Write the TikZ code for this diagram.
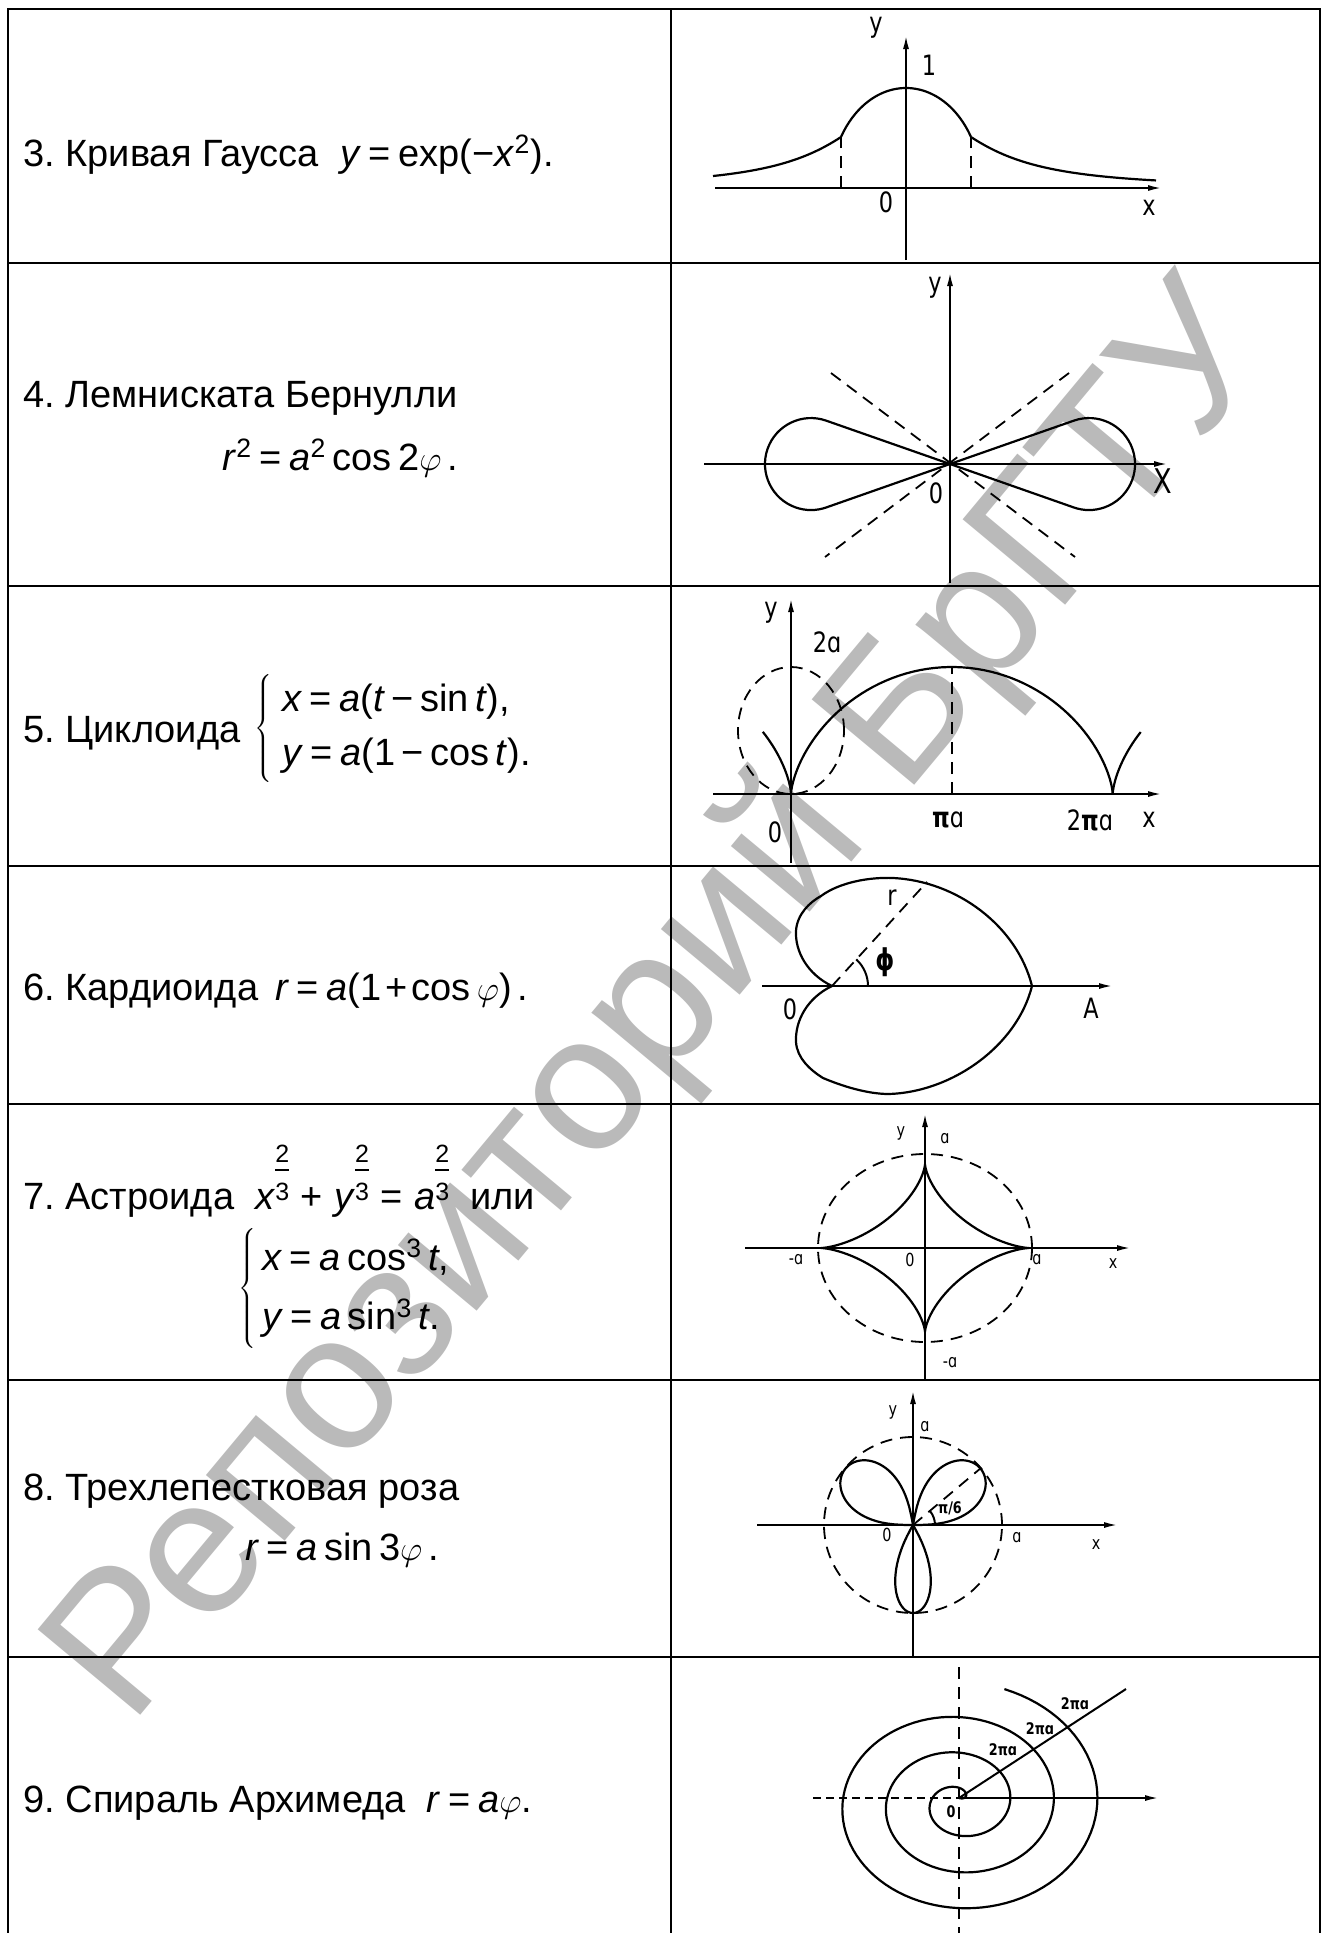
\documentclass[tikz,border=0pt]{standalone}
\usepackage{fontspec}
\setmainfont{Liberation Sans}
\newfontfamily\cad[FakeStretch=0.8]{DejaVu Sans}
\usetikzlibrary{arrows.meta}
\newcommand{\twothirds}{\raise4.5pt\hbox{\fontsize{12.5}{12.5}\selectfont\vbox{\offinterlineskip\halign{\hfil##\hfil\cr 2\cr\noalign{\kern3.5pt\hrule height0.6pt\kern6pt}3\cr}}}}
\newcommand{\vphi}{\ensuremath{\varphi}}
\newcommand{\eqs}{\hspace{0.2em}=\hspace{0.2em}}
\frenchspacing
\begin{document}
\begin{tikzpicture}[x=0.5pt,y=-0.5pt,
 tabline/.style={line width=1.4pt},
 crv/.style={line width=1.1pt},
 axisline/.style={line width=1pt},
 axarrow/.style={line width=1pt,-{Latex[length=7pt,width=3pt]}},
 dsh/.style={line width=0.9pt,dash pattern=on 6pt off 4pt},
 txt/.style={inner sep=0pt,anchor=base west,font=\fontsize{19}{22}\selectfont},
 sysbox/.style={inner sep=0pt,anchor=west,font=\fontsize{19}{22}\selectfont},
 lbl/.style={inner sep=0pt,font=\cad\fontsize{14}{14}\selectfont},
 slbl/.style={inner sep=0pt,font=\cad\fontsize{9}{9}\selectfont},
 tlbl/.style={inner sep=0pt,font=\cad\bfseries\fontsize{8}{8}\selectfont},
 wmark/.style={inner sep=0pt,rotate=50.2,text=black!27,font=\fontsize{97}{97}\selectfont}]
\useasboundingbox (0,0) rectangle (1324,1933);

% watermark
\node[wmark] (wm) at (664,1006) {Репозиторий БрГТУ};

% table
\draw[tabline] (8,1933) -- (8,9) -- (1320,9) -- (1320,1933);
\foreach \yy in {263,586,866,1104,1380,1657} \draw[tabline] (8,\yy) -- (1320,\yy);
\draw[tabline] (671,9) -- (671,1933);

% ---------- left column texts ----------
\node[txt] (t1) at (23,166) {3. Кривая Гаусса\ \ \textit{y}\eqs exp(−\textit{x}\textsuperscript{2}).};
\node[txt] (t2a) at (23,407) {4. Лемниската Бернулли};
\node[txt] (t2b) at (222,470) {\textit{r}\textsuperscript{2}\eqs\textit{a}\textsuperscript{2}\,cos\,2\vphi\,.};
\node[txt] (t3) at (23,742) {5. Циклоида};
\node[sysbox] (t3s) at (254,728) {$\left\{\renewcommand{\arraystretch}{1.23}\begin{tabular}{@{\hspace{5pt}}l@{}}\textit{x}\eqs\textit{a}(\textit{t}\,−\,sin\,\textit{t}),\\ \textit{y}\eqs\textit{a}(1\,−\,cos\,\textit{t}).\end{tabular}\right.$};
\node[txt] (t4) at (23,1000) {6. Кардиоида\hspace{0.45em}\textit{r}\eqs\textit{a}(1\hspace{0.1em}+\hspace{0.1em}cos\,\vphi)\,.};
\node[txt] (t5) at (23,1209) {7. Астроида\ \ \textit{x}\twothirds\hspace{0.3em}+\hspace{0.3em}\textit{y}\twothirds\hspace{0.3em}=\hspace{0.3em}\textit{a}\twothirds\hspace{0.55em}или};
\node[sysbox] (t5s) at (238,1288) {$\left\{\renewcommand{\arraystretch}{1.36}\begin{tabular}{@{\hspace{3pt}}l@{}}\textit{x}\eqs\textit{a}\,cos\textsuperscript{3}\,\textit{t},\\ \textit{y}\eqs\textit{a}\,sin\textsuperscript{3}\,\textit{t}.\end{tabular}\right.$};
\node[txt] (t6a) at (23,1500) {8. Трехлепестковая роза};
\node[txt] (t6b) at (245,1560) {\textit{r}\eqs\textit{a}\,sin\,3\vphi\,.};
\node[txt] (t7) at (23,1812) {9. Спираль Архимеда\ \ \textit{r}\eqs\textit{a}\vphi.};

% ---------- 1: Gauss ----------
\begin{scope}[shift={(906,188)},yscale=-1]
 \coordinate (gO) at (0,0);
 \coordinate (gyb) at (0,-72); \coordinate (gyt) at (0,153);
 \coordinate (gxl) at (-191,0); \coordinate (gxr) at (256,0);
 \draw[axarrow] (gyb) -- (gyt);
 \draw[axarrow] (gxl) -- (gxr);
 \draw[crv] plot[domain=-193:-65,samples=40] (\x,{87.3/(1+(\x/77)*(\x/77))});
 \draw[crv] plot[domain=-65:65,samples=50] (\x,{100*sqrt(1-(\x/75.6)*(\x/75.6))});
 \draw[crv] plot[domain=65:250,samples=40] (\x,{87.3/(1+(\x/77)*(\x/77))});
 \coordinate (gd1) at (-65,0); \coordinate (gd1t) at (-65,51);
 \coordinate (gd2) at (65,0); \coordinate (gd2t) at (65,51);
 \draw[dsh] (gd1) -- (gd1t);
 \draw[dsh] (gd2) -- (gd2t);
\end{scope}
\node[lbl] (gly) at (876,28) {y};
\node[lbl] (gl1) at (929,65) {1};
\node[lbl] (gl0) at (886,202) {0};
\node[lbl] (glx) at (1149,208) {x};

% ---------- 2: Lemniscate ----------
\begin{scope}[shift={(950,464)},yscale=-1]
 \coordinate (lO) at (0,0);
 \coordinate (lyb) at (0,-119); \coordinate (lyt) at (0,192);
 \coordinate (lxl) at (-246,0); \coordinate (lxr) at (218,0);
 \draw[axarrow] (lyb) -- (lyt);
 \draw[axarrow] (lxl) -- (lxr);
 \draw[crv] (lO) -- (19.3:131.2) arc[start angle=109.3,end angle=-109.3,radius=46] -- (lO);
 \draw[crv] (lO) -- (160.7:131.2) arc[start angle=70.7,end angle=289.3,radius=46] -- (lO);
 \coordinate (la1) at (-119,91); \coordinate (la2) at (125,-93);
 \coordinate (lb1) at (119,91); \coordinate (lb2) at (-125,-93);
 \draw[dsh] (la1) -- (la2);
 \draw[dsh] (lb1) -- (lb2);
\end{scope}
\node[lbl] (lly) at (935,288) {y};
\node[lbl,font=\cad\fontsize{17}{17}\selectfont] (llx) at (1163,481) {X};
\node[lbl] (ll0) at (936,493) {0};

% ---------- 3: Cycloid ----------
\begin{scope}[shift={(791,794)},yscale=-1]
 \coordinate (cO) at (0,0);
 \coordinate (cyb) at (0,-69); \coordinate (cyt) at (0,196);
 \coordinate (cxl) at (-78,0); \coordinate (cxr) at (371,0);
 \draw[axarrow] (cyb) -- (cyt);
 \draw[axarrow] (cxl) -- (cxr);
 \draw[crv] plot[domain=0:6.2832,samples=90,variable=\t] ({51.2*(\t-sin(\t r))},{63.5*(1-cos(\t r))});
 \draw[crv] plot[domain=-1.55:0,samples=25,variable=\t] ({51.2*(\t-sin(\t r))},{63.5*(1-cos(\t r))});
 \draw[crv] plot[domain=6.2832:7.83,samples=25,variable=\t] ({51.2*(\t-sin(\t r))},{63.5*(1-cos(\t r))});
 \coordinate (cpa) at (160.85,0); \coordinate (cpat) at (160.85,127);
 \draw[dsh] (cpa) -- (cpat);
 \coordinate (cc) at (0,63.5);
 \draw[dsh] (cc) ellipse[x radius=53,y radius=63.5];
\end{scope}
\node[lbl] (cly) at (771,613) {y};
\node[lbl] (cl2a) at (827,642) {2ɑ};
\node[lbl] (cl0) at (775,832) {0};
\node[lbl] (clpa) at (948,820) {{\bfseries π}ɑ};
\node[lbl] (cl2pa) at (1090,820) {2{\bfseries π}ɑ};
\node[lbl] (clx) at (1149,820) {x};

% ---------- 4: Cardioid ----------
\begin{scope}[shift={(832,986)},yscale=-1]
 \coordinate (kO) at (0,0);
 \coordinate (kxl) at (-70,0); \coordinate (kxr) at (281,0);
 \draw[axarrow] (kxl) -- (kxr);
 \draw[crv] (kO) .. controls (-25,12) and (-37,35) .. (-36,55)
   .. controls (-35,72) and (-22,84) .. (-11,90)
   .. controls (8,104) and (38,109) .. (61,108)
   .. controls (125,105) and (185,60) .. (200,0)
   .. controls (185,-60) and (120,-106) .. (57,-108)
   .. controls (35,-108) and (10,-100) .. (-9,-92)
   .. controls (-22,-84) and (-35,-72) .. (-36,-56)
   .. controls (-37,-35) and (-25,-12) .. (kO);
 \coordinate (kr) at (47.6:141);
 \draw[dsh] (kO) -- (kr);
 \draw[axisline] (36,0) arc[start angle=0,end angle=47.6,radius=36];
\end{scope}
\node[lbl] (klr) at (892,898) {r};
\node[lbl,font=\cad\bfseries\fontsize{15}{15}\selectfont] (klphi) at (885,962) {ϕ};
\node[lbl] (kl0) at (790,1009) {0};
\node[lbl] (klA) at (1091,1008) {A};

% ---------- 5: Astroid ----------
\begin{scope}[shift={(925,1248)},yscale=-1]
 \coordinate (aO) at (0,0);
 \coordinate (ayb) at (0,-132); \coordinate (ayt) at (0,135);
 \coordinate (axl) at (-180,0); \coordinate (axr) at (206,0);
 \draw[axarrow] (ayb) -- (ayt);
 \draw[axarrow] (axl) -- (axr);
 \draw[crv] plot[domain=0:360,samples=145,variable=\a] ({104*cos(\a)*cos(\a)*cos(\a)},{84*sin(\a)*sin(\a)*sin(\a)});
 \draw[dsh] (aO) ellipse[x radius=107,y radius=94];
\end{scope}
\node[slbl] (aly) at (901,1133) {y};
\node[slbl] (ala1) at (945,1139) {ɑ};
\node[slbl] (alx) at (1113,1264) {x};
\node[slbl] (alma) at (796,1260) {-ɑ};
\node[slbl] (al0) at (910,1260) {0};
\node[slbl] (ala2) at (1037,1260) {ɑ};
\node[slbl] (alma2) at (950,1363) {-ɑ};

% ---------- 6: Rose ----------
\begin{scope}[shift={(913,1525)},yscale=-1]
 \coordinate (rO) at (0,0);
 \coordinate (ryb) at (0,-132); \coordinate (ryt) at (0,135);
 \coordinate (rxl) at (-156,0); \coordinate (rxr) at (205,0);
 \draw[axarrow] (ryb) -- (ryt);
 \draw[axarrow] (rxl) -- (rxr);
 \draw[dsh] (rO) ellipse[x radius=89,y radius=88];
 \draw[crv] (rO) -- plot[domain=0.5:79.5,samples=60,variable=\a] ({88*(cos(2.25*(\a-40)))^0.6*cos(\a)},{88*(cos(2.25*(\a-40)))^0.6*sin(\a)}) -- (rO);
 \draw[crv] (rO) -- plot[domain=100.5:179.5,samples=60,variable=\a] ({88*(cos(2.25*(\a-140)))^0.6*cos(\a)},{88*(cos(2.25*(\a-140)))^0.6*sin(\a)}) -- (rO);
 \draw[crv] (rO) -- plot[domain=240.5:299.5,samples=50,variable=\a] ({88*(cos(3*(\a-270)))^0.8*cos(\a)},{88*(cos(3*(\a-270)))^0.8*sin(\a)}) -- (rO);
 \coordinate (rt) at (40:88);
 \draw[dsh] (rO) -- (rt);
 \draw[axisline] (22,0) arc[start angle=0,end angle=40,radius=22];
\end{scope}
\node[slbl] (rly) at (893,1412) {y};
\node[slbl] (rla1) at (925,1427) {ɑ};
\node[slbl] (rl0) at (887,1535) {0};
\node[slbl] (rla2) at (1017,1538) {ɑ};
\node[slbl] (rlx) at (1096,1545) {x};
\node[tlbl] (rlpi) at (950,1508) {π/6};

% ---------- 7: Spiral ----------
\begin{scope}[shift={(959,1798)},yscale=-1]
 \coordinate (sO) at (0,0);
 \coordinate (syt) at (0,131); \coordinate (syb) at (0,-140);
 \coordinate (sxl) at (-146,0); \coordinate (sxr) at (200,0);
 \coordinate (sray) at (167,109);
 \draw[dsh] (syt) -- (syb);
 \draw[line width=1pt,dash pattern=on 4pt off 2.5pt] (sxl) -- (sO);
 \draw[axarrow] (sO) -- (sxr);
 \draw[axisline] (sO) -- (sray);
 \draw[crv] plot[domain=0:1152,samples=320,variable=\p] ({(0.1208*\p+8*\p/(30+\p))*cos(\p)},{0.82*(0.1208*\p+8*\p/(30+\p))*sin(\p)-6*\p/(60+\p)});
\end{scope}
\node[tlbl] (sl1) at (1003,1750) {2πɑ};
\node[tlbl] (sl2) at (1040,1729) {2πɑ};
\node[tlbl] (sl3) at (1075,1704) {2πɑ};
\node[tlbl] (sl0) at (951,1812) {0};
\end{tikzpicture}
\end{document}
